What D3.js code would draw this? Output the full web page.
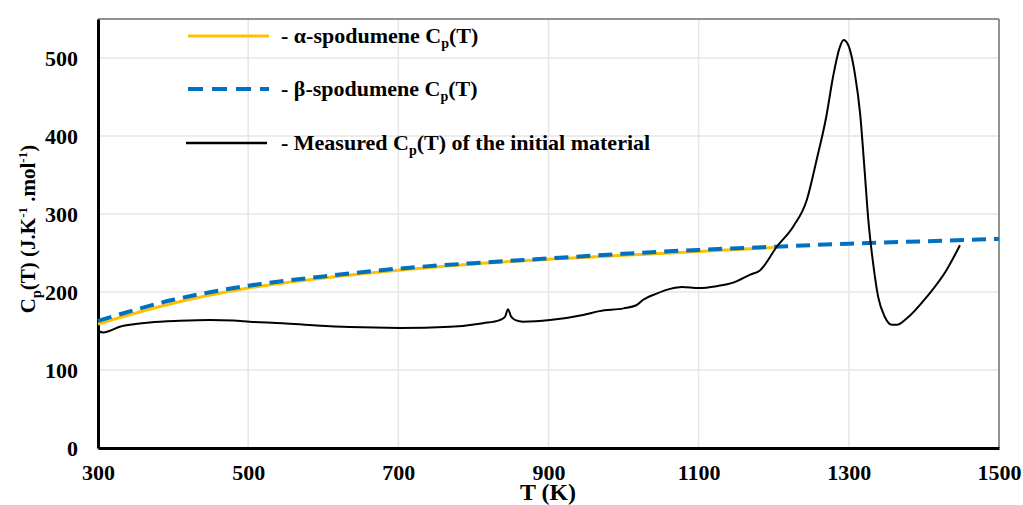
<!DOCTYPE html>
<html>
<head>
<meta charset="utf-8">
<script src="https://cdn.jsdelivr.net/npm/d3@7"></script>
<style>
  html, body { margin: 0; padding: 0; background: #fff; }
  svg { display: block; }
  svg text { font-family: "Times New Roman", "Liberation Serif", Tinos, "DejaVu Serif", serif !important; font-weight: bold; fill: #000; }
</style>
</head>
<body>
<svg id="chart" width="1023" height="505"></svg>
<script>
// Heat capacity of spodumene phases vs temperature
const xTicks = [300, 500, 700, 900, 1100, 1300, 1500];
const yTicks = [0, 100, 200, 300, 400, 500];

const tempAlpha = [300, 400, 500, 600, 700, 800, 900, 1000, 1100, 1200];
const cpAlpha   = [159, 185.5, 205, 218, 228, 236, 242, 247, 252, 257];

const tempBeta = [300, 400, 500, 600, 700, 800, 900, 1000, 1100, 1200, 1300, 1400, 1500];
const cpBeta   = [163, 190, 208, 220, 230, 237, 243, 249, 254, 258, 262, 265, 268];

const tempMeasured = [300, 307, 315, 329, 350, 369, 409, 449, 480, 502, 546, 591, 635, 702, 769, 813, 835, 842, 846, 850, 856, 866, 902, 946, 968, 1000, 1017, 1026, 1044, 1062, 1078, 1100, 1124, 1146, 1168, 1182, 1204, 1226, 1244, 1257, 1270, 1279, 1288, 1293, 1299, 1308, 1315, 1321, 1326, 1333, 1339, 1348, 1357, 1364, 1377, 1404, 1430, 1448];
const cpMeasured   = [150, 148, 150, 155.5, 159, 161, 163, 164, 163.5, 162, 160, 157, 155, 154, 155.5, 160, 164, 168, 178, 169, 164, 162, 164, 170.5, 175.5, 179, 183, 190, 198, 204, 206.5, 205, 207.5, 212, 222, 228, 258, 284, 318, 369, 425, 476, 514, 523, 517, 480, 429, 356, 292, 232, 194, 168, 158, 158, 166, 194, 228, 260];

const legendLabels = ["α-spodumene", "β-spodumene", "Measured"];

const svg = d3.select("#chart");
const plotLeft = 98, plotRight = 999, plotTop = 19, plotBottom = 448;

const x = d3.scaleLinear().domain([300, 1500]).range([plotLeft, plotRight]);
const y = d3.scaleLinear().domain([0, 550]).range([plotBottom, plotTop]);

// gridlines
svg.append("g").selectAll("line").data(yTicks.slice(1)).join("line")
  .attr("x1", plotLeft).attr("x2", plotRight)
  .attr("y1", d => y(d)).attr("y2", d => y(d))
  .attr("stroke", "#e6e6e6").attr("stroke-width", 1.5);
svg.append("g").selectAll("line").data(xTicks.slice(1, -1)).join("line")
  .attr("x1", d => x(d)).attr("x2", d => x(d))
  .attr("y1", plotTop).attr("y2", plotBottom)
  .attr("stroke", "#e6e6e6").attr("stroke-width", 1.5);

// frame
svg.append("line").attr("x1", plotLeft).attr("x2", plotRight).attr("y1", plotTop).attr("y2", plotTop)
  .attr("stroke", "#6e6e6e").attr("stroke-width", 1.5);
svg.append("line").attr("x1", plotRight).attr("x2", plotRight).attr("y1", plotTop).attr("y2", plotBottom)
  .attr("stroke", "#6e6e6e").attr("stroke-width", 1.5);

// axes
const xAxis = svg.append("g").attr("transform", `translate(0,${plotBottom})`)
  .call(d3.axisBottom(x).tickValues(xTicks).tickSize(0).tickPadding(16).tickFormat(d3.format("d")));
const yAxis = svg.append("g").attr("transform", `translate(${plotLeft},0)`)
  .call(d3.axisLeft(y).tickValues(yTicks).tickSize(0).tickPadding(20).tickFormat(d3.format("d")));
[xAxis, yAxis].forEach(g => {
  g.attr("font-family", null).attr("font-size", 22);
  g.select(".domain").attr("stroke", "#000").attr("stroke-width", 3);
  g.selectAll("text").attr("font-size", 22).attr("fill", "#000");
});
yAxis.selectAll("text").attr("dy", "0.35em");

// curves
const line = (xs, ys) => d3.line().curve(d3.curveMonotoneX)
  .x((d, i) => x(xs[i])).y((d, i) => y(ys[i]))(ys);

svg.append("path").attr("d", line(tempAlpha, cpAlpha))
  .attr("fill", "none").attr("stroke", "#FFC000").attr("stroke-width", 3);
svg.append("path").attr("d", line(tempBeta, cpBeta))
  .attr("fill", "none").attr("stroke", "#0070C0").attr("stroke-width", 4)
  .attr("stroke-dasharray", "14,8");
svg.append("path").attr("d", line(tempMeasured, cpMeasured))
  .attr("fill", "none").attr("stroke", "#000").attr("stroke-width", 2).attr("stroke-linejoin", "round");

// legend
const legend = [
  { name: legendLabels[0], y: 36, stroke: "#FFC000", w: 3, dash: null, x1: 188 },
  { name: legendLabels[1], y: 89, stroke: "#0070C0", w: 4, dash: "15,9", x1: 188 },
  { name: legendLabels[2], y: 143, stroke: "#000", w: 2.5, dash: null, x1: 186 }
];
legend.forEach((it, i) => {
  svg.append("line").attr("x1", it.x1).attr("x2", it.x1 + 81).attr("y1", it.y).attr("y2", it.y)
    .attr("stroke", it.stroke).attr("stroke-width", it.w).attr("stroke-dasharray", it.dash);
  const t = svg.append("text").attr("x", 281).attr("y", it.y + 7).attr("font-size", 22);
  t.append("tspan").text("- " + it.name + " C");
  t.append("tspan").attr("font-size", 14).attr("dy", 5).text("p");
  t.append("tspan").attr("dy", -5).text(i === 2 ? "(T) of the initial material" : "(T)");
});

// axis titles
svg.append("text").attr("x", 548).attr("y", 500).attr("text-anchor", "middle")
  .attr("font-size", 24).text("T (K)");

const yt = svg.append("text").attr("transform", "translate(35,229) rotate(-90)")
  .attr("text-anchor", "middle").attr("font-size", 21);
yt.append("tspan").text("C");
yt.append("tspan").attr("font-size", 14).attr("dy", 6).text("p");
yt.append("tspan").attr("dy", -6).text("(T) (J.K");
yt.append("tspan").attr("font-size", 13).attr("dy", -8).text("-1");
yt.append("tspan").attr("dy", 8).text(" .mol");
yt.append("tspan").attr("font-size", 13).attr("dy", -8).text("-1");
yt.append("tspan").attr("dy", 8).text(")");
</script>
</body>
</html>
